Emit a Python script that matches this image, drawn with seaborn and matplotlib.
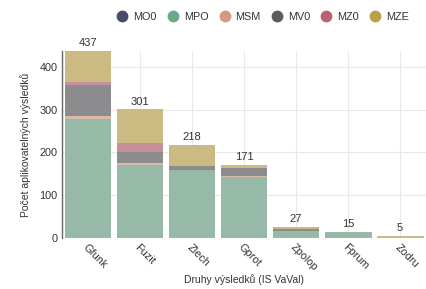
import matplotlib
matplotlib.use("Agg")
import matplotlib.pyplot as plt
from matplotlib.lines import Line2D
import numpy as np
import pandas as pd
import seaborn as sns

druhy = ["Gfunk", "Fuzit", "Zlech", "Gprot", "Zpolop", "Fprum", "Zodru"]
skupiny = ["MO0", "MPO", "MSM", "MV0", "MZ0", "MZE"]
mo0 = [0, 0, 0, 0, 0, 0, 0]
mpo = [278, 170, 158, 143, 16, 15, 0]
msm = [6, 5, 2, 3, 1, 0, 0]
mv0 = [73, 27, 8, 17, 5, 0, 0]
mz0 = [8, 19, 0, 0, 0, 0, 0]
mze = [72, 80, 50, 8, 5, 0, 5]
barvy = ["#4a4c6e", "#6aa888", "#d39a80", "#5c5c5c", "#b8636f", "#b9a04a"]
barvy_sloupcu = ["#8a8ca6", "#97b9a7", "#dbb8a8", "#8c8c8f", "#c6909b", "#cbbb83"]

df = pd.DataFrame({"druh": druhy, "MO0": mo0, "MPO": mpo, "MSM": msm,
                   "MV0": mv0, "MZ0": mz0, "MZE": mze})
celkem = df[skupiny].sum(axis=1).values

sns.set_style("white")
plt.rcParams["font.family"] = ["Liberation Sans", "DejaVu Sans"]

fig = plt.figure(figsize=(4.27, 2.89), dpi=100)
ax = fig.add_axes([0.145, 0.176, 0.853, 0.648])

spodek = np.zeros(len(druhy))
for sk, barva in zip(skupiny, barvy_sloupcu):
    sns.barplot(data=df, x="druh", y=sk, color=barva, width=0.9,
                bottom=spodek, ax=ax, linewidth=0, saturation=1)
    spodek = spodek + df[sk].values

for i, c in enumerate(celkem):
    ax.text(i, c + 6, str(c), ha="center", va="bottom", fontsize=8, color="#333333")

ax.set_ylim(0, 437)
ax.set_xlim(-0.5, len(druhy) - 0.5)
ax.set_yticks([0, 100, 200, 300, 400])
ax.grid(True, color="#e8e8e8", linewidth=0.8)
ax.set_axisbelow(True)
for s in ["top", "right", "bottom"]:
    ax.spines[s].set_visible(False)
ax.spines["left"].set_color("#666666")
ax.spines["left"].set_linewidth(1.0)
ax.tick_params(axis="both", length=0, labelsize=7.8, colors="#333333", pad=3)
plt.setp(ax.get_xticklabels(), rotation=-45, ha="left", rotation_mode="anchor")
ax.set_xlabel("Druhy výsledků (IS VaVal)", fontsize=7.5, color="#333333", labelpad=1)
ax.set_ylabel("Počet aplikovatelných výsledků", fontsize=7.5, color="#333333", labelpad=6)

znacky = [Line2D([0], [0], marker="o", linestyle="", markersize=7.5,
                 markerfacecolor=b, markeredgecolor=b) for b in barvy]
fig.legend(znacky, skupiny, loc="center right", bbox_to_anchor=(0.98, 0.942), ncol=6,
           frameon=False, fontsize=7.8, handletextpad=0.0, columnspacing=0.5,
           labelcolor="#333333")

fig.savefig("out.png", dpi=100)
plt.close(fig)
